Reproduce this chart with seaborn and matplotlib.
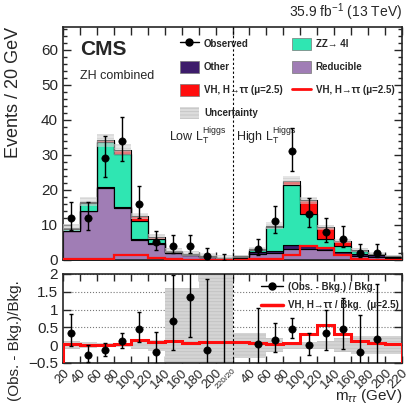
import numpy as np
import pandas as pd
import matplotlib.pyplot as plt
import seaborn as sns
from matplotlib.lines import Line2D
from matplotlib.patches import Patch
from matplotlib.ticker import MultipleLocator

sns.set_style('ticks')
plt.rcParams['font.family'] = ['Liberation Sans', 'DejaVu Sans']
plt.rcParams['mathtext.fontset'] = 'custom'
plt.rcParams['mathtext.rm'] = 'Liberation Sans'
plt.rcParams['mathtext.it'] = 'Liberation Sans:italic'
plt.rcParams['hatch.linewidth'] = 0.6

# 20 bins: 10 in low L_T^Higgs, 10 in high L_T^Higgs (m_tautau 20-220 GeV each)
tick_labels = ['20', '40', '60', '80', '100', '120', '140', '160', '180', '200', '220/20',
               '40', '60', '80', '100', '120', '140', '160', '180', '200', '220']

reducible = [8.2, 13.9, 20.5, 14.8, 5.6, 4.7, 1.9, 1.4, 0.8, 0.35,
             0.6, 1.7, 1.9, 3.0, 3.2, 2.8, 1.8, 1.2, 0.8, 0.6]
other = [0.1, 0.2, 0.3, 0.4, 0.3, 0.2, 0.2, 0.1, 0.1, 0.1,
         0.2, 0.5, 0.6, 1.3, 0.8, 0.5, 0.5, 0.6, 0.5, 0.3]
zz = [0.6, 2.3, 13.0, 15.0, 5.1, 1.2, 0.3, 0.2, 0.25, 0.15,
      0.2, 0.7, 7.0, 17.0, 9.1, 2.7, 1.8, 0.7, 0.4, 0.2]
vh = [0.25, 0.3, 0.4, 1.3, 1.5, 0.6, 0.3, 0.12, 0.1, 0.05,
      0.1, 0.2, 0.3, 1.4, 4.0, 3.4, 1.3, 0.3, 0.12, 0.05]

obs = [12, 12, 29, 34, 16, 5, 4, 4, 1, 0,
       np.nan, 3, 11, 31, 13, 8, 6, 2, 2, np.nan]
obs_lo = [3.41, 3.41, 5.35, 5.80, 3.97, 2.16, 1.91, 1.91, 0.83, 0.0,
          np.nan, 1.63, 3.26, 5.54, 3.56, 2.77, 2.38, 1.29, 1.29, np.nan]
obs_hi = [4.57, 4.57, 6.44, 6.90, 5.10, 3.38, 3.16, 3.16, 2.30, 1.84,
          np.nan, 2.92, 4.42, 6.63, 4.71, 3.94, 3.58, 2.64, 2.64, np.nan]

unc_abs = [1.0, 1.2, 1.9, 1.5, 0.9, 0.7, 0.8, 0.7, 0.8, 0.8,
           0.4, 0.6, 1.0, 1.3, 1.0, 0.7, 0.6, 0.5, 0.4, 0.3]
unc_rel = [0.12, 0.08, 0.06, 0.05, 0.1, 0.15, 1.6, 1.6, 2.2, 2.2,
           0.35, 0.35, 0.2, 0.1, 0.1, 0.12, 0.2, 0.25, 0.25, 0.25]

colors = {'VH': '#ff0d0d', 'ZZ': '#2fe6b2', 'Other': '#3d1c6b', 'Reducible': '#a07db5'}

nb = len(obs)
edges = np.arange(nb + 1)
centers = edges[:-1] + 0.5
obs = np.array(obs, float)
bkg = np.array(reducible) + np.array(other) + np.array(zz)
total = bkg + np.array(vh)

df = pd.DataFrame({
    'x': np.tile(centers, 4),
    'w': np.concatenate([vh, zz, other, reducible]),
    'process': np.repeat(['VH', 'ZZ', 'Other', 'Reducible'], nb),
})

fig = plt.figure(figsize=(4.09, 4.12), dpi=100)
ax = fig.add_axes([0.154, 0.369, 0.829, 0.565])
rax = fig.add_axes([0.154, 0.119, 0.829, 0.216])

sns.histplot(data=df, x='x', weights='w', hue='process',
             hue_order=['VH', 'ZZ', 'Other', 'Reducible'], palette=colors,
             multiple='stack', bins=edges.tolist(), element='step', fill=True, alpha=1,
             edgecolor='black', linewidth=0.8, legend=False, ax=ax)

ax.stairs(total + np.array(unc_abs), edges, baseline=total - np.array(unc_abs), fill=True,
          facecolor='#d2d2d2', edgecolor='#c0c0c0', hatch='-----', alpha=0.55, lw=0, zorder=3)
ax.stairs(vh, edges, color='#ff0d0d', lw=1.6, zorder=4)

ax.errorbar(centers, obs, yerr=[obs_lo, obs_hi], fmt='none', ecolor='black',
            elinewidth=1, capsize=1.5, zorder=5)
m = obs > 0
sns.scatterplot(x=centers[m], y=obs[m], color='black', s=28, edgecolor='black',
                zorder=6, ax=ax, legend=False)

ax.axvline(10, color='black', ls=(0, (2, 2)), lw=0.8, zorder=7)
ax.set_xlim(0, nb)
ax.set_ylim(0, 66.5)
ax.set_xticks(edges)
ax.set_xticklabels([])
ax.yaxis.set_major_locator(MultipleLocator(10))
ax.yaxis.set_minor_locator(MultipleLocator(2))
ax.tick_params(which='both', direction='in', top=True, right=True, labelsize=11)
ax.tick_params(which='major', length=6, width=1)
ax.tick_params(which='minor', length=3, width=1)
ax.set_xlabel('')
ax.set_ylabel('Events / 20 GeV', fontsize=13, ha='right')
ax.yaxis.set_label_coords(-0.122, 1.0)
for s in ax.spines.values():
    s.set_linewidth(1.2)

ax.text(0.05, 0.945, 'CMS', transform=ax.transAxes, fontsize=15, fontweight='bold', va='top')
ax.text(0.05, 0.815, 'ZH combined', transform=ax.transAxes, fontsize=9, va='top')
ax.text(1.0, 1.02, '35.9 fb$^{-1}$ (13 TeV)', transform=ax.transAxes, ha='right',
        va='bottom', fontsize=10)
ax.text(9.65, 35.5, 'Low L$_\\mathrm{T}^\\mathrm{Higgs}$', ha='right', va='center', fontsize=9)
ax.text(10.2, 35.5, 'High L$_\\mathrm{T}^\\mathrm{Higgs}$', ha='left', va='center', fontsize=9)

handles = [
    Line2D([0], [0], color='black', marker='o', ms=5, lw=1),
    Patch(facecolor=colors['Other'], edgecolor='#777777', lw=0.5),
    Patch(facecolor=colors['VH'], edgecolor='#777777', lw=0.5),
    Patch(facecolor='#dcdcdc', edgecolor='#c4c4c4', hatch='-----', lw=0),
    Patch(facecolor=colors['ZZ'], edgecolor='#777777', lw=0.5),
    Patch(facecolor=colors['Reducible'], edgecolor='#777777', lw=0.5),
    Line2D([0], [0], color='#ff0d0d', lw=2),
]
labels = ['Observed', 'Other', 'VH, H\u2192\u03c4\u03c4 (\u03bc=2.5)', 'Uncertainty',
          'ZZ\u2192 4l', 'Reducible', 'VH, H\u2192\u03c4\u03c4 (\u03bc=2.5)']
ax.legend(handles, labels, ncol=2, loc='upper left', bbox_to_anchor=(0.33, 0.975),
          frameon=False, prop={'weight': 'bold', 'size': 7}, labelspacing=1.15,
          handlelength=2.0, handleheight=1.5, handletextpad=0.5, columnspacing=0.9,
          borderpad=0)

# ratio panel
ratio = (obs - bkg) / bkg
r_lo = np.array(obs_lo) / bkg
r_hi = np.array(obs_hi) / bkg
rel = np.array(unc_rel)
rax.stairs(rel, edges, baseline=-rel, fill=True, facecolor='#d4d4d4', edgecolor='#c2c2c2',
           hatch='-----', lw=0, zorder=1)
rax.yaxis.grid(True, ls=':', color='#777777', lw=0.8, zorder=0)
rax.stairs(np.array(vh) / bkg, edges, baseline=-0.5, color='#ff0d0d', lw=2.2, zorder=3)
rax.errorbar(centers, ratio, yerr=[r_lo, r_hi], fmt='none', ecolor='black',
             elinewidth=1, capsize=1.5, zorder=4)
sns.scatterplot(x=centers[m], y=ratio[m], color='black', s=28, edgecolor='black',
                zorder=5, ax=rax, legend=False)
rax.axvline(10, color='black', ls=(0, (2, 2)), lw=0.8, zorder=6)
rax.set_xlim(0, nb)
rax.set_ylim(-0.5, 2)
rax.set_yticks([-0.5, 0, 0.5, 1, 1.5, 2])
rax.set_yticklabels(['\u22120.5', '0', '0.5', '1', '1.5', '2'])
rax.set_xticks(edges)
rax.set_xticklabels(tick_labels, rotation=45, ha='right', rotation_mode='anchor')
for t in rax.get_xticklabels():
    t.set_fontsize(6 if '/' in t.get_text() else 9.5)
rax.tick_params(which='both', direction='in', top=True, right=True)
rax.tick_params(axis='y', labelsize=11, length=6, width=1)
rax.tick_params(axis='x', length=5, width=1, pad=3)
for s in rax.spines.values():
    s.set_linewidth(1.2)
rax.set_ylabel('(Obs. - Bkg.)/Bkg.', fontsize=11, ha='right')
rax.yaxis.set_label_coords(-0.121, 0.93)
rax.set_xlabel('m$_{\\tau\\tau}$ (GeV)', fontsize=11, ha='right')
rax.xaxis.set_label_coords(1.0, -0.27)

rhandles = [Line2D([0], [0], color='black', marker='o', ms=5, lw=1),
            Line2D([0], [0], color='#ff0d0d', lw=2.5)]
rlabels = ['(Obs. - Bkg.) / Bkg.', 'VH, H\u2192\u03c4\u03c4 / Bkg.  (\u03bc=2.5)']
rax.legend(rhandles, rlabels, loc='upper left', bbox_to_anchor=(0.57, 0.97), frameon=False,
           prop={'weight': 'bold', 'size': 7}, labelspacing=0.9, handlelength=2.3,
           handletextpad=0.5, borderpad=0)

fig.savefig('out.png', dpi=100)
